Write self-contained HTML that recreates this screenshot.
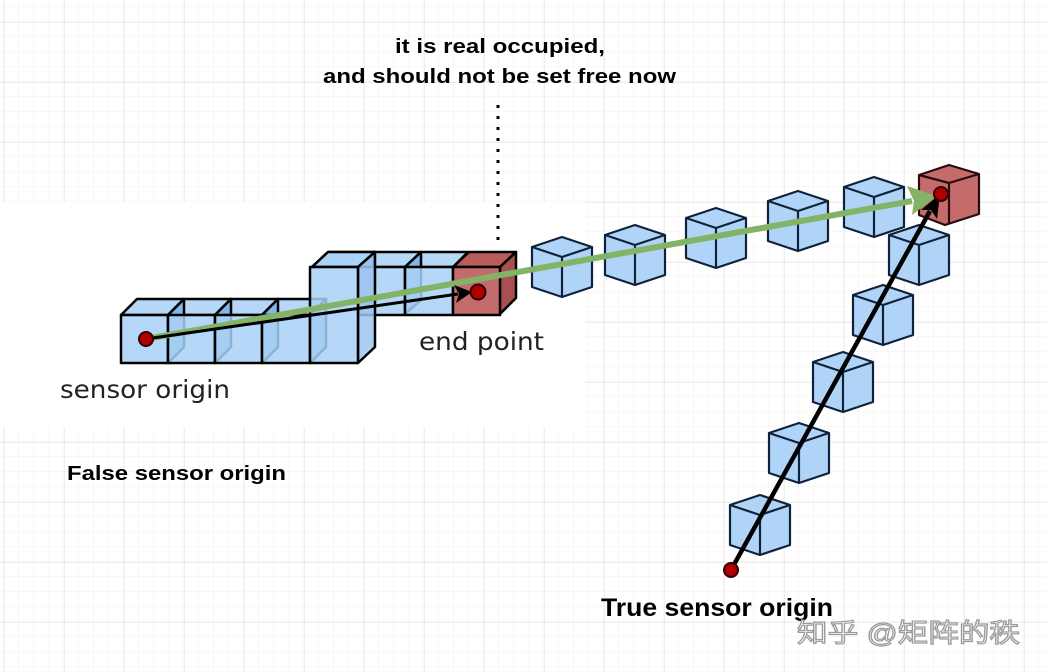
<!DOCTYPE html>
<html><head><meta charset="utf-8">
<style>
html,body{margin:0;padding:0;background:#fff;}
svg{display:block;}
</style></head>
<body>
<svg width="1047" height="672" viewBox="0 0 1047 672" xmlns="http://www.w3.org/2000/svg">
<defs>
<pattern id="minor" x="4" y="7" width="15" height="15" patternUnits="userSpaceOnUse">
<path d="M15 0 V15 M0 15 H15" stroke="#f0f0f0" stroke-width="1" fill="none"/>
</pattern>
<pattern id="major" x="4" y="22" width="60" height="60" patternUnits="userSpaceOnUse">
<path d="M0 0 V60 M0 0 H60" stroke="#dcdcdc" stroke-width="1" fill="none"/>
</pattern>
<g id="cube">
<path d="M0 10 L30 0 L60 10 L60 50 L30 60 L0 50 Z" fill="#b0d4f8" stroke="#10223a" stroke-width="2.2" stroke-linejoin="round"/>
<path d="M0 10 L30 20 L60 10 M30 20 V60" fill="none" stroke="#10223a" stroke-width="2.2"/>
</g>
</defs>
<rect width="1047" height="672" fill="#fff"/>
<rect width="1047" height="672" fill="url(#minor)"/>
<rect width="1047" height="672" fill="url(#major)"/>
<!-- pasted white image area -->
<rect x="0" y="202" width="585" height="225" fill="#fff"/>

<!-- left voxel boxes -->
<g stroke="#000" stroke-width="2.5" stroke-linejoin="round">
<!-- upper row -->
<g fill="#a9d1f7" fill-opacity="0.85">
<path d="M312 267 L328 252 L375 252 L358 267 Z"/>
<path d="M358 267 L374 252 L421 252 L405 267 Z"/>
<path d="M405 267 L421 252 L468 252 L453 267 Z"/>
<path d="M358 267 L374 252 L374 300 L358 314 Z" fill="#7ab0e6"/>
<path d="M405 267 L421 252 L421 300 L405 314 Z" fill="#7ab0e6"/>
<rect x="358" y="267" width="47" height="48"/>
<rect x="405" y="267" width="48" height="48"/>
</g>
<g fill="#c46b6b">
<path d="M453 267 L469 252 L516 252 L500 267 Z" fill="#b85c5c"/>
<path d="M500 267 L516 252 L516 298 L500 314 Z" fill="#a84f4f"/>
<rect x="453" y="267" width="47" height="48"/>
</g>
<!-- lower row -->
<g fill="#a9d1f7" fill-opacity="0.85">
<path d="M121 315 L137 299 L184 299 L168 315 Z"/>
<path d="M168 315 L184 299 L231 299 L215 315 Z"/>
<path d="M215 315 L231 299 L278 299 L262 315 Z"/>
<path d="M262 315 L278 299 L326 299 L310 315 Z"/>
<path d="M168 315 L184 299 L184 347 L168 363 Z" fill="#7ab0e6"/>
<path d="M215 315 L231 299 L231 347 L215 363 Z" fill="#7ab0e6"/>
<path d="M262 315 L278 299 L278 347 L262 363 Z" fill="#7ab0e6"/>
<path d="M310 315 L326 299 L326 347 L310 363 Z" fill="#7ab0e6"/>
<rect x="121" y="315" width="47" height="48"/>
<rect x="168" y="315" width="47" height="48"/>
<rect x="215" y="315" width="47" height="48"/>
<rect x="262" y="315" width="48" height="48"/>
<!-- tall column -->
<path d="M312 267 L328 252 L375 252 L358 267 Z"/>
<path d="M358 267 L375 252 L375 347 L358 363 Z" fill="#9cc6f0"/>
<rect x="310" y="267" width="48" height="96"/>
</g>
</g>

<!-- right cubes -->
<use href="#cube" x="532" y="237"/>
<use href="#cube" x="605" y="225"/>
<use href="#cube" x="686" y="208"/>
<use href="#cube" x="768" y="191"/>
<use href="#cube" x="844" y="177"/>
<use href="#cube" x="889" y="225"/>
<use href="#cube" x="853" y="285"/>
<use href="#cube" x="813" y="352"/>
<use href="#cube" x="769" y="423"/>
<use href="#cube" x="730" y="495"/>
<!-- red end cube -->
<g stroke="#2a0a0a" stroke-width="2.2" stroke-linejoin="round">
<path d="M919 175 L949 165 L979 174 L979 214 L945 225 L919 215 Z" fill="#c46b6b"/>
<path d="M919 175 L949 183 L979 174 M949 183 V224" fill="none"/>
</g>

<!-- dotted line -->
<line x1="498" y1="105" x2="498" y2="240" stroke="#000" stroke-width="3" stroke-dasharray="3 8"/>

<!-- green arrow -->
<line x1="146" y1="339" x2="912" y2="201" stroke="#82b366" stroke-width="6"/>
<path d="M937 196 L907 186 L914 201 L912 215 Z" fill="#82b366"/>
<!-- black arrow left -->
<line x1="146" y1="339" x2="458" y2="294" stroke="#000" stroke-width="3"/>
<path d="M472 292 L454 285 L459 294 L456 303 Z" fill="#000"/>
<!-- black arrow right -->
<line x1="731" y1="570" x2="930" y2="211" stroke="#000" stroke-width="4.5"/>
<path d="M940 194 L921 210 L931 210 L937 219 Z" fill="#000"/>

<!-- dots -->
<g fill="#b00000" stroke="#300" stroke-width="2">
<circle cx="146" cy="339" r="7"/>
<circle cx="478" cy="292" r="7.5"/>
<circle cx="731" cy="570" r="7"/>
<circle cx="941" cy="194" r="7"/>
</g>

<!-- text -->
<g font-family="DejaVu Sans, sans-serif" fill="#222" font-size="25">
<text x="60" y="398" textLength="170" lengthAdjust="spacingAndGlyphs">sensor origin</text>
<text x="419" y="350" textLength="125" lengthAdjust="spacingAndGlyphs">end point</text>
</g>
<g font-family="Liberation Sans, Arial, sans-serif" font-weight="bold" fill="#000">
<text x="395" y="53" font-size="20" textLength="210" lengthAdjust="spacingAndGlyphs">it is real occupied,</text>
<text x="323" y="83" font-size="20" textLength="353" lengthAdjust="spacingAndGlyphs">and should not be set free now</text>
<text x="67" y="480" font-size="20" textLength="219" lengthAdjust="spacingAndGlyphs">False sensor origin</text>
<text x="601" y="616" font-size="25" textLength="232" lengthAdjust="spacingAndGlyphs">True sensor origin</text>
</g>
<text x="797" y="642" font-family="Liberation Sans, Noto Sans CJK SC, sans-serif" font-size="26" fill="#fff" stroke="#9a9a9a" stroke-width="1.2" textLength="223" lengthAdjust="spacingAndGlyphs">知乎 @矩阵的秩</text>
</svg>
</body></html>
